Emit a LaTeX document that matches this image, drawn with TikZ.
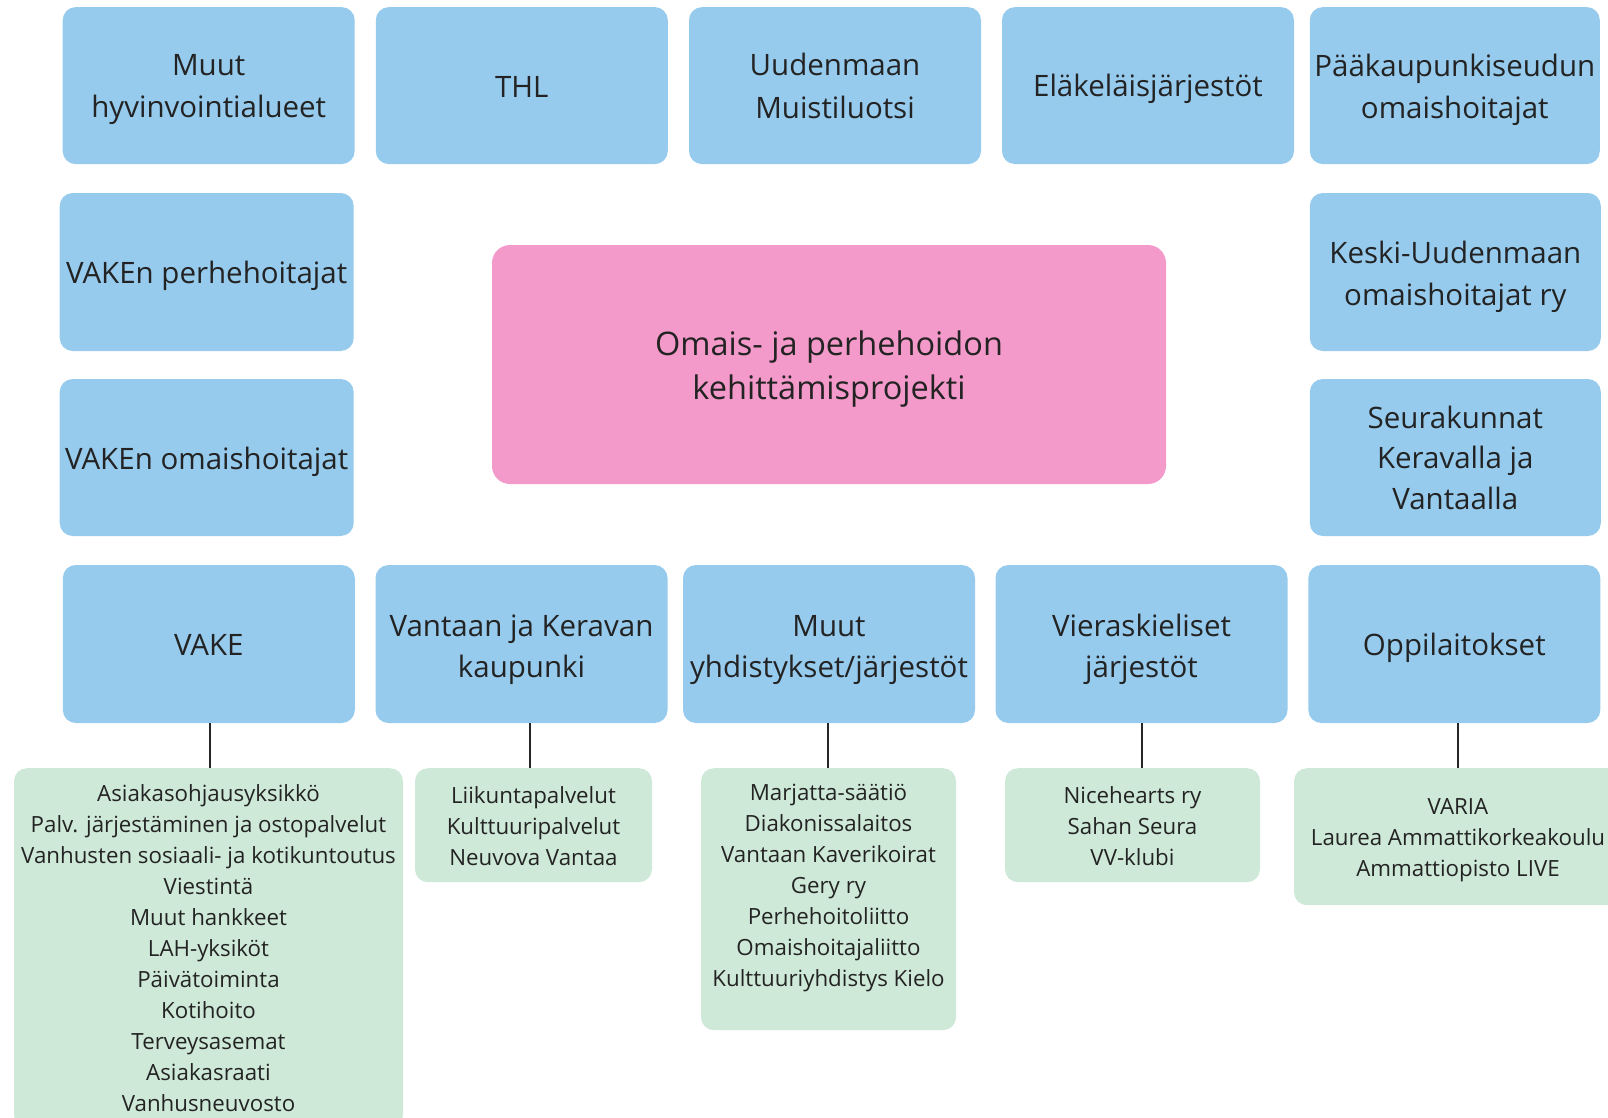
\documentclass[tikz,border=0pt]{standalone}
\usepackage{fontspec}
\setmainfont{Open Sans}
\definecolor{boxblue}{HTML}{96CBEE}
\definecolor{boxpink}{HTML}{F49ACA}
\definecolor{boxgreen}{HTML}{CEE9D8}
\definecolor{txt}{HTML}{232323}
\tikzset{
  bluebox/.style={fill=boxblue, rounded corners=13pt, minimum width=292pt, minimum height=157pt, inner sep=0pt},
  btext/.style={align=center, text=txt, inner sep=0pt, font=\fontsize{29.5}{42.5}\selectfont},
  pinkbox/.style={fill=boxpink, rounded corners=18pt, minimum width=674pt, minimum height=239pt, inner sep=0pt},
  ptext/.style={align=center, text=txt, inner sep=0pt, font=\fontsize{32.5}{44}\selectfont},
  greenbox/.style={fill=boxgreen, rounded corners=13pt, inner sep=0pt},
  greentext/.style={align=center, text=txt, inner sep=0pt, font=\fontsize{22.3}{31}\selectfont},
  link/.style={draw=black!85, line width=2pt}
}
\begin{document}
\begin{tikzpicture}[x=1pt,y=-1pt]
\useasboundingbox (0,0) rectangle (1608,1117);
\clip (0,0) rectangle (1608,1117);
% top row
\node[bluebox] (muut) at (208.7,85.6) {};
\node[btext] (muut-t) at ([yshift=-4pt]muut.center) {Muut\\hyvinvointialueet};
\node[bluebox] (thl) at (521.8,85.6) {};
\node[btext] (thl-t) at ([yshift=-1pt]thl.center) {THL};
\node[bluebox] (uud) at (835,85.6) {};
\node[btext] (uud-t) at ([yshift=-0.5pt]uud.center) {Uudenmaan\\Muistiluotsi};
\node[bluebox] (elak) at (1148,85.6) {};
\node[btext] (elak-t) at ([yshift=-3pt]elak.center) {Eläkeläisjärjestöt};
\node[bluebox, minimum width=290pt] (paak) at (1454.8,85.6) {};
\node[btext] (paak-t) at ([yshift=-4pt]paak.center) {Pääkaupunkiseudun\\omaishoitajat};
% left column
\node[bluebox, minimum width=294pt, minimum height=158pt] (vperhe) at (206.7,272) {};
\node[btext] (vperhe-t) at ([yshift=-4pt]vperhe.center) {VAKEn perhehoitajat};
\node[bluebox, minimum width=294pt] (vomais) at (206.7,457.5) {};
\node[btext] (vomais-t) at ([yshift=-4pt]vomais.center) {VAKEn omaishoitajat};
% right column
\node[bluebox, minimum width=291pt, minimum height=158pt] (keski) at (1455.3,272) {};
\node[btext] (keski-t) at ([yshift=-5pt]keski.center) {Keski-Uudenmaan\\omaishoitajat ry};
\node[bluebox, minimum width=291pt] (seura) at (1455.3,457.5) {};
\node[btext, font=\fontsize{29.5}{40.5}\selectfont] (seura-t) at (seura.center) {Seurakunnat\\Keravalla ja\\Vantaalla};
% center
\node[pinkbox] (proj) at (829,364.5) {};
\node[ptext] (proj-t) at ([yshift=-5pt]proj.center) {Omais- ja perhehoidon\\kehittämisprojekti};
% bottom row
\node[bluebox, minimum height=158pt] (vake) at (208.8,644) {};
\node[btext] (vake-t) at ([yshift=-1pt]vake.center) {VAKE};
\node[bluebox, minimum height=158pt] (vk) at (521.5,644) {};
\node[btext, font=\fontsize{29.5}{41}\selectfont] (vk-t) at ([yshift=-6pt]vk.center) {Vantaan ja Keravan\\kaupunki};
\node[bluebox, minimum height=158pt] (my) at (829,644) {};
\node[btext, font=\fontsize{29.5}{41}\selectfont] (my-t) at ([yshift=-6pt]my.center) {Muut\\yhdistykset/järjestöt};
\node[bluebox, minimum height=158pt] (vj) at (1141.5,644) {};
\node[btext, font=\fontsize{29.5}{41}\selectfont] (vj-t) at ([yshift=-5pt]vj.center) {Vieraskieliset\\järjestöt};
\node[bluebox, minimum height=158pt] (opp) at (1454.3,644) {};
\node[btext] (opp-t) at ([yshift=-4pt]opp.center) {Oppilaitokset};
% green boxes
\node[greenbox, minimum width=389pt, minimum height=360pt, anchor=north] (vakeg) at (208.5,768) {};
\node[greentext, anchor=north] (vakeg-t) at ([yshift=-16pt]vakeg.north) {Asiakasohjausyksikkö\\Palv. järjestäminen ja ostopalvelut\\Vanhusten sosiaali- ja kotikuntoutus\\Viestintä\\Muut hankkeet\\LAH-yksiköt\\Päivätoiminta\\Kotihoito\\Terveysasemat\\Asiakasraati\\Vanhusneuvosto};
\node[greenbox, minimum width=237pt, minimum height=114pt, anchor=north] (vkg) at (533.5,768) {};
\node[greentext] (vkg-t) at ([yshift=-1pt]vkg.center) {Liikuntapalvelut\\Kulttuuripalvelut\\Neuvova Vantaa};
\node[greenbox, minimum width=255pt, minimum height=262pt, anchor=north] (myg) at (828.5,768) {};
\node[greentext, anchor=north] (myg-t) at ([yshift=-16pt]myg.north) {Marjatta-säätiö\\Diakonissalaitos\\Vantaan Kaverikoirat\\Gery ry\\Perhehoitoliitto\\Omaishoitajaliitto\\Kulttuuriyhdistys Kielo};
\node[greenbox, minimum width=255pt, minimum height=114pt, anchor=north] (vjg) at (1132.5,768) {};
\node[greentext] (vjg-t) at ([yshift=-1pt]vjg.center) {Nicehearts ry\\Sahan Seura\\VV-klubi};
\node[greenbox, minimum width=328pt, minimum height=137pt, anchor=north] (oppg) at (1458,768) {};
\node[greentext] (oppg-t) at ([yshift=-3pt]oppg.center) {VARIA\\Laurea Ammattikorkeakoulu\\Ammattiopisto LIVE};
% connectors
\draw[link] ([xshift=1pt]vake.south) -- ([xshift=1pt]vake.south |- vakeg.north);
\draw[link] ([xshift=8pt]vk.south) -- ([xshift=8pt]vk.south |- vkg.north);
\draw[link] ([xshift=-1pt]my.south) -- ([xshift=-1pt]my.south |- myg.north);
\draw[link] (vj.south) -- (vj.south |- vjg.north);
\draw[link] ([xshift=4pt]opp.south) -- ([xshift=4pt]opp.south |- oppg.north);
\end{tikzpicture}
\end{document}
